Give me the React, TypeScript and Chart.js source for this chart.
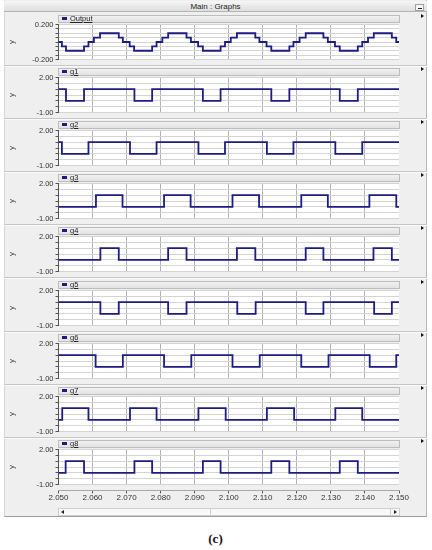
import React, { useEffect, useRef } from "react";
import { Chart, registerables } from "chart.js";
Chart.register(...registerables);

// ---------------- data ----------------
const X_MIN = 2.05;
const X_MAX = 2.15;
const xTickValues = [2.05, 2.06, 2.07, 2.08, 2.09, 2.1, 2.11, 2.12, 2.13, 2.14, 2.15];
const xTickLabels = ["2.050", "2.060", "2.070", "2.080", "2.090", "2.100", "2.110", "2.120", "2.130", "2.140", "2.150"];

const outputYTicks = [-0.2, -0.15, -0.1, -0.05, 0, 0.05, 0.1, 0.15, 0.2];
const outputYLabels = ["-0.200", "0.200"];
const gateYTicks = [-1, -0.5, 0, 0.5, 1, 1.5, 2];
const gateYLabels = ["-1.00", "2.00"];

const panelNames = ["Output", "g1", "g2", "g3", "g4", "g5", "g6", "g7", "g8"];

const outputStart = 0;
const outputTimes = [
  2.051, 2.0522, 2.0575, 2.0588, 2.0604, 2.0622, 2.0677, 2.0689,
  2.0709, 2.0722, 2.0775, 2.0788, 2.0805, 2.0822, 2.0876, 2.0889,
  2.091, 2.0924, 2.0976, 2.0989, 2.1006, 2.1024, 2.1078, 2.109,
  2.1111, 2.1125, 2.1178, 2.119, 2.1208, 2.1226, 2.1278, 2.1291,
  2.1312, 2.1326, 2.1379, 2.1392, 2.1409, 2.1426, 2.1479, 2.1492,
];
const outputLevels = [
  -0.05, -0.1, -0.05, 0, 0.05, 0.1, 0.05, 0,
  -0.05, -0.1, -0.05, 0, 0.05, 0.1, 0.05, 0,
  -0.05, -0.1, -0.05, 0, 0.05, 0.1, 0.05, 0,
  -0.05, -0.1, -0.05, 0, 0.05, 0.1, 0.05, 0,
  -0.05, -0.1, -0.05, 0, 0.05, 0.1, 0.05, 0,
];

const g1Start = 1;
const g1Edges = [2.0522, 2.0575, 2.0723, 2.0775, 2.0924, 2.0976, 2.1125, 2.1178, 2.1326, 2.1379];
const g2Start = 1;
const g2Edges = [2.051, 2.0588, 2.071, 2.0788, 2.0911, 2.0989, 2.1112, 2.119, 2.1313, 2.1392];
const g3Start = 0;
const g3Edges = [2.061, 2.0688, 2.081, 2.0888, 2.1011, 2.1089, 2.1213, 2.1291, 2.1413, 2.1492];
const g4Start = 0;
const g4Edges = [2.0623, 2.0677, 2.0822, 2.0876, 2.1024, 2.1078, 2.1226, 2.1278, 2.1425, 2.1479];
const g5Start = 1;
const g5Edges = [2.0623, 2.0677, 2.0822, 2.0876, 2.1025, 2.1079, 2.1226, 2.1278, 2.1427, 2.1479];
const g6Start = 1;
const g6Edges = [2.0609, 2.0689, 2.081, 2.089, 2.1011, 2.1091, 2.1213, 2.1293, 2.1414, 2.1492];
const g7Start = 0;
const g7Edges = [2.0511, 2.0588, 2.071, 2.0788, 2.0911, 2.0991, 2.1112, 2.1192, 2.1313, 2.1392];
const g8Start = 0;
const g8Edges = [2.0521, 2.0575, 2.0723, 2.0775, 2.0924, 2.0976, 2.1125, 2.1178, 2.1326, 2.1379];

// ---------------- helpers ----------------
type Pt = { x: number; y: number };

function buildSteps(start: number, times: number[], levels: number[]): Pt[] {
  const pts: Pt[] = [{ x: X_MIN, y: start }];
  let cur = start;
  times.forEach((t, i) => {
    pts.push({ x: t, y: cur });
    cur = levels[i];
    pts.push({ x: t, y: cur });
  });
  pts.push({ x: X_MAX, y: cur });
  return pts;
}

function buildSquare(start: number, edges: number[]): Pt[] {
  const pts: Pt[] = [{ x: X_MIN, y: start }];
  let cur = start;
  edges.forEach((t) => {
    pts.push({ x: t, y: cur });
    cur = cur === 1 ? 0 : 1;
    pts.push({ x: t, y: cur });
  });
  pts.push({ x: X_MAX, y: cur });
  return pts;
}

const FONT = "'Liberation Sans', Arial, Helvetica, sans-serif";
const LINE = "#1c1c82";
const FIRST_TOP = 24;
const PITCH = 53.1;
const PLOT_H = 37;
const PAD_T = 6;
const PAD_B = 5;
const CANVAS_W = 395;
const AXIS_W = 54.5;

const plotBg = {
  id: "plotBg",
  beforeDraw(chart: any) {
    const { ctx, chartArea: a } = chart;
    ctx.save();
    ctx.fillStyle = "#ffffff";
    ctx.fillRect(a.left, a.top, a.right - a.left, a.bottom - a.top);
    ctx.restore();
  },
};

type PanelProps = {
  index: number;
  name: string;
  points: Pt[];
  yMin: number;
  yMax: number;
  yTicks: number[];
  yLabels: string[];
};

function Panel({ index, name, points, yMin, yMax, yTicks, yLabels }: PanelProps) {
  const ref = useRef<HTMLCanvasElement | null>(null);
  const top = Math.round(FIRST_TOP + index * PITCH);
  const h = PLOT_H + PAD_T + PAD_B;

  useEffect(() => {
    const chart = new Chart(ref.current as HTMLCanvasElement, {
      type: "line",
      data: {
        datasets: [
          {
            data: points,
            borderColor: LINE,
            borderWidth: 1.8,
            pointRadius: 0,
            tension: 0,
            fill: false,
          },
        ],
      },
      plugins: [plotBg],
      options: {
        animation: false,
        responsive: false,
        events: [],
        layout: { padding: { top: PAD_T, bottom: PAD_B, left: 0, right: 0 } },
        plugins: { legend: { display: false }, tooltip: { enabled: false } },
        scales: {
          x: {
            type: "linear",
            min: X_MIN,
            max: X_MAX,
            afterBuildTicks: (s: any) => {
              s.ticks = xTickValues.map((v) => ({ value: v }));
            },
            ticks: { display: false },
            grid: { color: "#b2b2b2", drawTicks: false, lineWidth: 1 },
            border: { display: false },
          },
          y: {
            type: "linear",
            min: yMin,
            max: yMax,
            afterBuildTicks: (s: any) => {
              s.ticks = yTicks.map((v) => ({ value: v }));
            },
            afterFit: (s: any) => {
              s.width = AXIS_W;
            },
            ticks: {
              autoSkip: false,
              padding: 2,
              color: "#333",
              font: { family: FONT, size: 7.5 },
              callback: (_v: any, i: number) =>
                i === 0 ? yLabels[0] : i === yTicks.length - 1 ? yLabels[1] : "",
            },
            grid: { color: "#d4d4d4", tickColor: "#555", tickLength: 3, lineWidth: 1 },
            border: { color: "#555" },
            title: {
              display: true,
              text: "y",
              color: "#444",
              font: { family: FONT, size: 8 },
              padding: { top: 3, bottom: 0 },
            },
          },
        },
      } as any,
    });
    return () => chart.destroy();
  }, []);

  return (
    <>
      <canvas
        ref={ref}
        width={CANVAS_W}
        height={h}
        style={{ position: "absolute", left: 4, top: top - PAD_T, width: CANVAS_W, height: h, zIndex: 1 }}
      />
      <div
        style={{
          position: "absolute",
          left: 58,
          top: top - 9,
          width: 342,
          height: 8,
          boxSizing: "border-box",
          background: "linear-gradient(#f1f1f1, #e2e2e2)",
          border: "1px solid #bdbdbd",
          zIndex: 2,
        }}
      >
        <div style={{ position: "absolute", left: 3, top: 1, width: 5, height: 3, background: LINE }} />
        <div
          style={{
            position: "absolute",
            left: 11,
            top: -2,
            font: `7.5px ${FONT}`,
            lineHeight: "9px",
            color: "#222",
            textDecoration: "underline",
            whiteSpace: "nowrap",
          }}
        >
          {name}
        </div>
      </div>
      <div
        style={{
          position: "absolute",
          left: 421,
          top: top - 10,
          width: 0,
          height: 0,
          borderLeft: "3px solid #111",
          borderTop: "2px solid transparent",
          borderBottom: "2px solid transparent",
          zIndex: 2,
        }}
      />
      {index < 8 && (
        <div
          style={{
            position: "absolute",
            left: 4,
            top: top + 41,
            width: 423,
            height: 1,
            background: "#c6c6c6",
            borderBottom: "1px solid #fafafa",
            zIndex: 0,
          }}
        />
      )}
    </>
  );
}

const AXIS_CANVAS_H = 45;

function XAxis() {
  const ref = useRef<HTMLCanvasElement | null>(null);
  useEffect(() => {
    const chart = new Chart(ref.current as HTMLCanvasElement, {
      type: "line",
      data: { datasets: [] },
      options: {
        animation: false,
        responsive: false,
        events: [],
        layout: { padding: { top: 0, bottom: 0, left: AXIS_W, right: 424 - CANVAS_W } },
        plugins: { legend: { display: false }, tooltip: { enabled: false } },
        scales: {
          x: {
            type: "linear",
            min: X_MIN,
            max: X_MAX,
            afterBuildTicks: (s: any) => {
              s.ticks = xTickValues.map((v) => ({ value: v }));
            },
            ticks: {
              autoSkip: false,
              maxRotation: 0,
              padding: 0,
              color: "#333",
              font: { family: FONT, size: 8 },
              callback: (_v: any, i: number) => xTickLabels[i],
            },
            grid: { drawOnChartArea: false, tickLength: 3, tickColor: "#555" },
            border: { color: "#a8a8a8" },
          },
          y: { display: false },
        },
      } as any,
    });
    return () => chart.destroy();
  }, []);
  return (
    <canvas
      ref={ref}
      width={424}
      height={AXIS_CANVAS_H}
      style={{ position: "absolute", left: 4, top: 458, width: 424, height: AXIS_CANVAS_H, zIndex: 1 }}
    />
  );
}

const panels = [
  { name: panelNames[0], points: buildSteps(outputStart, outputTimes, outputLevels), yMin: -0.2, yMax: 0.2, yTicks: outputYTicks, yLabels: outputYLabels },
  { name: panelNames[1], points: buildSquare(g1Start, g1Edges), yMin: -1, yMax: 2, yTicks: gateYTicks, yLabels: gateYLabels },
  { name: panelNames[2], points: buildSquare(g2Start, g2Edges), yMin: -1, yMax: 2, yTicks: gateYTicks, yLabels: gateYLabels },
  { name: panelNames[3], points: buildSquare(g3Start, g3Edges), yMin: -1, yMax: 2, yTicks: gateYTicks, yLabels: gateYLabels },
  { name: panelNames[4], points: buildSquare(g4Start, g4Edges), yMin: -1, yMax: 2, yTicks: gateYTicks, yLabels: gateYLabels },
  { name: panelNames[5], points: buildSquare(g5Start, g5Edges), yMin: -1, yMax: 2, yTicks: gateYTicks, yLabels: gateYLabels },
  { name: panelNames[6], points: buildSquare(g6Start, g6Edges), yMin: -1, yMax: 2, yTicks: gateYTicks, yLabels: gateYLabels },
  { name: panelNames[7], points: buildSquare(g7Start, g7Edges), yMin: -1, yMax: 2, yTicks: gateYTicks, yLabels: gateYLabels },
  { name: panelNames[8], points: buildSquare(g8Start, g8Edges), yMin: -1, yMax: 2, yTicks: gateYTicks, yLabels: gateYLabels },
];

export default function App() {
  return (
    <div
      style={{
        position: "absolute",
        left: 0,
        top: 0,
        width: 432,
        height: 550,
        background: "#ffffff",
        overflow: "hidden",
      }}
    >
      {/* window frame */}
      <div
        style={{
          position: "absolute",
          left: 4,
          top: 0,
          width: 423,
          height: 517,
          boxSizing: "border-box",
          background: "#efefef",
          borderLeft: "1px solid #d8d8d8",
          borderRight: "1px solid #b8b8b8",
          borderBottom: "1px solid #9c9c9c",
          zIndex: 0,
        }}
      />
      {/* title bar */}
      <div
        style={{
          position: "absolute",
          left: 4,
          top: 1,
          width: 423,
          height: 11,
          boxSizing: "border-box",
          background: "linear-gradient(#f6f6f6, #dedede)",
          borderBottom: "1px solid #b4b4b4",
          textAlign: "center",
          font: `8px ${FONT}`,
          lineHeight: "11px",
          color: "#222",
          zIndex: 2,
        }}
      >
        Main : Graphs
      </div>
      <div
        style={{
          position: "absolute",
          left: 415,
          top: 4,
          width: 9,
          height: 7,
          boxSizing: "border-box",
          border: "1px solid #a0a0a0",
          background: "#f4f4f4",
          zIndex: 3,
        }}
      >
        <div style={{ position: "absolute", left: 2, top: 3, width: 4, height: 1, background: "#222" }} />
      </div>

      {panels.map((p, i) => (
        <Panel key={p.name} index={i} {...p} />
      ))}

      <XAxis />

      {/* scrollbar */}
      <div
        style={{
          position: "absolute",
          left: 58,
          top: 508,
          width: 342,
          height: 8,
          boxSizing: "border-box",
          background: "#f8f8f8",
          border: "1px solid #cfcfcf",
          zIndex: 1,
        }}
      >
        <div style={{ position: "absolute", left: 151, top: 0, width: 1, height: 6, background: "#cfcfcf" }} />
        <div
          style={{
            position: "absolute",
            left: 2,
            top: 1,
            width: 0,
            height: 0,
            borderRight: "3px solid #222",
            borderTop: "2px solid transparent",
            borderBottom: "2px solid transparent",
          }}
        />
        <div style={{ position: "absolute", left: 331, top: -1, width: 1, height: 8, background: "#cfcfcf" }} />
        <div
          style={{
            position: "absolute",
            left: 335,
            top: 1,
            width: 0,
            height: 0,
            borderLeft: "3px solid #222",
            borderTop: "2px solid transparent",
            borderBottom: "2px solid transparent",
          }}
        />
      </div>

      <div
        style={{
          position: "absolute",
          left: 0,
          top: 531,
          width: 431,
          textAlign: "center",
          font: `bold 13px 'Liberation Serif', 'Times New Roman', serif`,
          color: "#111",
        }}
      >
        (c)
      </div>
    </div>
  );
}
